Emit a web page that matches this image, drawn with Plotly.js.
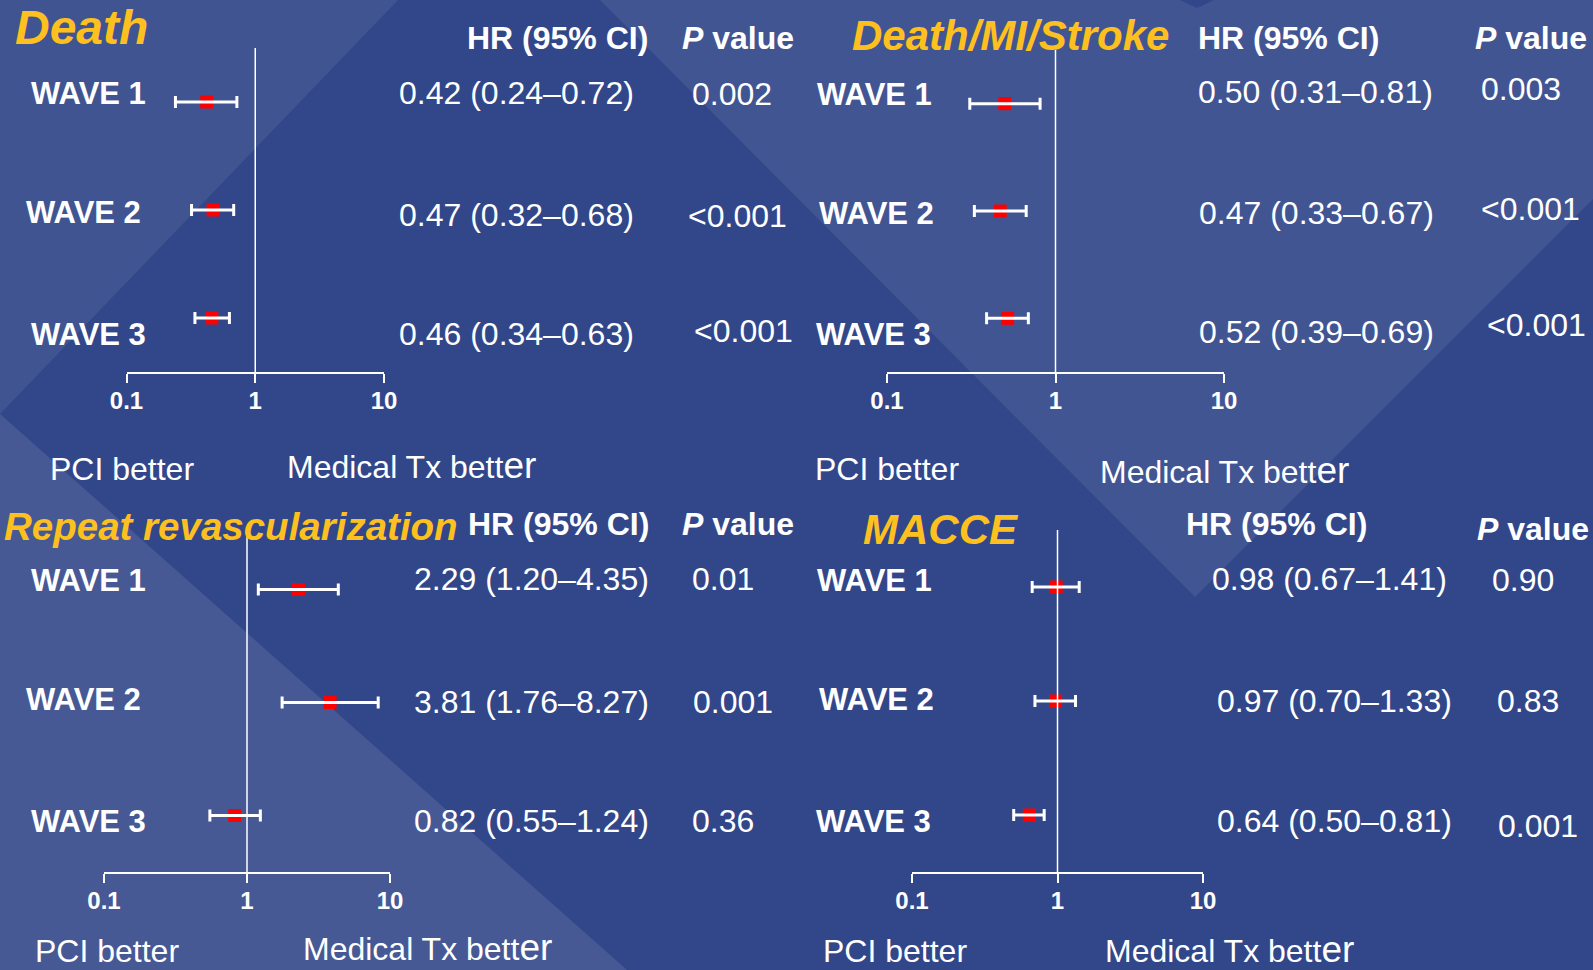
<!DOCTYPE html>
<html>
<head>
<meta charset="utf-8">
<script src="https://cdn.plot.ly/plotly-3.0.1.min.js"></script>
<style>
  html, body { margin: 0; padding: 0; background: #32478A; }
  #chart { width: 1593px; height: 970px; }
</style>
</head>
<body>
<div id="chart"></div>
<script>
// ---------------- DATA ----------------
const waves = ['WAVE 1', 'WAVE 2', 'WAVE 3'];
const outcomeTitles = ['Death', 'Death/MI/Stroke', 'Repeat revascularization', 'MACCE'];

const hrDeath = [0.42, 0.47, 0.46];
const loDeath = [0.24, 0.32, 0.34];
const hiDeath = [0.72, 0.68, 0.63];
const pDeath  = ['0.002', '<0.001', '<0.001'];

const hrDMS = [0.50, 0.47, 0.52];
const loDMS = [0.31, 0.33, 0.39];
const hiDMS = [0.81, 0.67, 0.69];
const pDMS  = ['0.003', '<0.001', '<0.001'];

const hrRevasc = [2.29, 3.81, 0.82];
const loRevasc = [1.20, 1.76, 0.55];
const hiRevasc = [4.35, 8.27, 1.24];
const pRevasc  = ['0.01', '0.001', '0.36'];

const hrMACCE = [0.98, 0.97, 0.64];
const loMACCE = [0.67, 0.70, 0.50];
const hiMACCE = [1.41, 1.33, 0.81];
const pMACCE  = ['0.90', '0.83', '0.001'];

const tickVals = [0.1, 1, 10];
const tickText = ['0.1', '1', '10'];
const colHeaders = ['HR (95% CI)', 'P value'];
const favourLabels = ['PCI better', 'Medical Tx better'];

// ---------------- LAYOUT GEOMETRY (pixels) ----------------
const W = 1593, H = 970;
const FONT = 'Liberation Sans, Arial, Helvetica, sans-serif';
const GOLD = '#FDC01E';
const px = x => x / W;
const py = y => 1 - y / H;

const series = [
  {hr: hrDeath,  lo: loDeath,  hi: hiDeath,  p: pDeath},
  {hr: hrDMS,    lo: loDMS,    hi: hiDMS,    p: pDMS},
  {hr: hrRevasc, lo: loRevasc, hi: hiRevasc, p: pRevasc},
  {hr: hrMACCE,  lo: loMACCE,  hi: hiMACCE,  p: pMACCE}
];

const geom = [
  { ax: [126.5, 384], ay: [48, 372],
    title: [14, 27, 48], hrHead: [466, 38], pHead: [681, 38],
    waveXY: [[30, 94], [25, 212], [30, 334]],
    hrXY: [[398, 93.5], [398, 215], [398, 334]],
    pXY: [[691, 94.5], [687, 216], [693, 331]],
    pci: [49, 469], med: [286, 465] },
  { ax: [887, 1224], ay: [50, 372],
    title: [851, 36, 42], hrHead: [1197, 38], pHead: [1474, 38],
    waveXY: [[816, 94.5], [818, 213], [815, 334]],
    hrXY: [[1197, 91.5], [1198, 213], [1198, 332]],
    pXY: [[1480, 89], [1480, 209], [1486, 325]],
    pci: [814, 469], med: [1099, 470] },
  { ax: [104, 390], ay: [533, 872],
    title: [3, 526, 38.5], hrHead: [467, 524], pHead: [681, 524],
    waveXY: [[30, 580], [25, 699], [30, 821]],
    hrXY: [[413, 579], [413, 702], [413, 821]],
    pXY: [[691, 579], [692, 702], [691, 821]],
    pci: [34, 951], med: [302, 947] },
  { ax: [912, 1203], ay: [530, 872],
    title: [862, 529, 42], hrHead: [1185, 524], pHead: [1476, 529],
    waveXY: [[816, 580], [818, 699], [815, 821]],
    hrXY: [[1211, 579], [1216, 701], [1216, 821]],
    pXY: [[1491, 580], [1496, 701], [1497, 826]],
    pci: [822, 951], med: [1104, 949] }
];

const traces = [];
const annotations = [];
const shapes = [];
const layout = {
  width: W, height: H,
  margin: {l: 0, r: 0, t: 0, b: 0},
  paper_bgcolor: '#32478A',
  plot_bgcolor: 'rgba(0,0,0,0)',
  showlegend: false,
  font: {family: FONT, color: '#FFFFFF'}
};

// background decoration
function path(pts) {
  return 'M ' + pts.map(p => px(p[0]) + ',' + py(p[1])).join(' L ') + ' Z';
}
shapes.push({type: 'path', xref: 'paper', yref: 'paper', layer: 'below', line: {width: 0},
  fillcolor: 'rgba(255,255,255,0.075)', path: path([[0, 0], [398, 0], [0, 414]])});
shapes.push({type: 'path', xref: 'paper', yref: 'paper', layer: 'below', line: {width: 0},
  fillcolor: 'rgba(255,255,255,0.10)', path: path([[0, 414], [627, 970], [0, 970]])});
shapes.push({type: 'path', xref: 'paper', yref: 'paper', layer: 'below', line: {width: 0},
  fillcolor: 'rgba(255,255,255,0.08)', path: path([[600, 0], [1195, 597], [1593, 199], [1593, 0], [1214, 0], [1197, 8], [1180, 0]])});

function ann(text, x, y, size, color, extra) {
  annotations.push(Object.assign({
    text: text, xref: 'paper', yref: 'paper', x: px(x), y: py(y),
    xanchor: 'left', yanchor: 'middle', showarrow: false, borderpad: 0,
    font: {family: FONT, size: size, color: color || '#FFFFFF'}
  }, extra || {}));
}

series.forEach((s, i) => {
  const g = geom[i];
  const sfx = i === 0 ? '' : String(i + 1);
  const xa = 'x' + sfx, ya = 'y' + sfx;

  layout['xaxis' + sfx] = {
    type: 'log', range: [-1, 1], domain: [px(g.ax[0]), px(g.ax[1])], anchor: ya,
    showline: true, linecolor: '#FFFFFF', linewidth: 2,
    ticks: 'outside', ticklen: 9, tickwidth: 2, tickcolor: '#FFFFFF',
    ticklabelstandoff: -3,
    tickmode: 'array', tickvals: tickVals, ticktext: tickText,
    tickfont: {family: FONT, size: 24, color: '#FFFFFF', weight: 'bold'},
    showgrid: false, zeroline: false, fixedrange: true
  };
  layout['yaxis' + sfx] = {
    type: 'category', categoryorder: 'array', categoryarray: waves.slice().reverse(),
    range: [-0.5, 2.5], domain: [py(g.ay[1]), py(g.ay[0])], anchor: xa,
    visible: false, showgrid: false, zeroline: false, fixedrange: true
  };

  // red point estimates
  traces.push({
    type: 'scatter', mode: 'markers', x: s.hr, y: waves, xaxis: xa, yaxis: ya,
    marker: {symbol: 'square', size: 13, color: '#FF0000'}, hoverinfo: 'skip'
  });
  // white CI whiskers drawn on top
  traces.push({
    type: 'scatter', mode: 'markers', x: s.hr, y: waves, xaxis: xa, yaxis: ya,
    marker: {size: 1, opacity: 0},
    error_x: {type: 'data', symmetric: false,
      array: s.hi.map((h, j) => h - s.hr[j]),
      arrayminus: s.hr.map((v, j) => v - s.lo[j]),
      color: '#FFFFFF', thickness: 3, width: 6},
    hoverinfo: 'skip'
  });

  // line of no effect
  shapes.push({type: 'line', xref: xa, yref: ya + ' domain', x0: 1, x1: 1, y0: 0, y1: 1,
    line: {color: '#FFFFFF', width: 1.5}});

  // texts
  ann('<b><i>' + outcomeTitles[i] + '</i></b>', g.title[0], g.title[1], g.title[2], GOLD);
  ann('<b>' + colHeaders[0] + '</b>', g.hrHead[0], g.hrHead[1], 32);
  ann('<b><i>' + colHeaders[1].split(' ')[0] + '</i> ' + colHeaders[1].split(' ').slice(1).join(' ') + '</b>', g.pHead[0], g.pHead[1], 32);
  waves.forEach((w, j) => {
    ann('<b>' + w + '</b>', g.waveXY[j][0], g.waveXY[j][1], 31);
    const hrTxt = s.hr[j].toFixed(2) + ' (' + s.lo[j].toFixed(2) + '\u2013' + s.hi[j].toFixed(2) + ')';
    ann(hrTxt, g.hrXY[j][0], g.hrXY[j][1], 32);
    ann(s.p[j], g.pXY[j][0], g.pXY[j][1], 32);
  });
  ann(favourLabels[0], g.pci[0], g.pci[1], 32);
  const med = favourLabels[1];
  ann(med.slice(0, -2) + '<span style="font-size:37px">' + med.slice(-2) + '</span>', g.med[0], g.med[1], 32);
});

layout.annotations = annotations;
layout.shapes = shapes;

Plotly.newPlot('chart', traces, layout, {displayModeBar: false, staticPlot: true});
</script>
</body>
</html>
